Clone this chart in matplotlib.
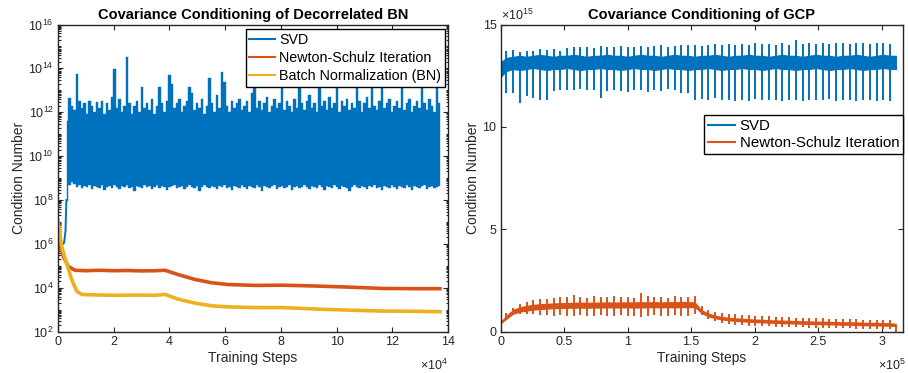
import numpy as np
import matplotlib
matplotlib.use("Agg")
import matplotlib.pyplot as plt
from matplotlib.lines import Line2D
from matplotlib.ticker import FixedLocator, FixedFormatter, NullFormatter

plt.rcParams['font.family'] = ['Liberation Sans', 'DejaVu Sans']
plt.rcParams['mathtext.fontset'] = 'custom'
plt.rcParams['mathtext.rm'] = 'Liberation Sans'
plt.rcParams['mathtext.it'] = 'Liberation Sans:italic'
plt.rcParams['mathtext.bf'] = 'Liberation Sans:bold'

BLUE = '#0072BD'
ORANGE = '#D95319'
YELLOW = '#EDB120'
INK = '#262626'

# ---------------- Decorrelated BN: condition numbers (log10) ----------------
dbn_svd_warmup_steps = [0, 300, 800, 1500, 2200, 2700, 3000]
dbn_svd_warmup_log = [5.4, 5.9, 6.05, 6.0, 6.05, 6.6, 8.0]

# SVD after warm-up: per-sample peak and floor of the noisy trace
dbn_svd_top_log = [
    11.6, 12.64, 12.3, 12.1, 13.76, 12.5, 12.2, 12.4, 11.9, 12.5,
    12.3, 12.0, 12.45, 12.2, 12.5, 11.9, 12.4, 12.1, 12.7, 13.99,
    12.2, 12.6, 12.0, 12.3, 14.51, 12.4, 11.9, 12.3, 12.5, 12.0,
    13.16, 12.2, 12.4, 12.1, 12.6, 11.9, 12.3, 13.16, 12.4, 12.0,
    12.5, 13.69, 13.3, 12.2, 12.4, 12.6, 12.0, 12.3, 12.5, 13.16,
    12.9, 12.1, 12.4, 12.2, 12.6, 11.9, 12.3, 13.54, 12.4, 12.0,
    12.8, 12.2, 13.84, 13.4, 12.3, 12.0, 12.5, 12.2, 12.4, 12.6,
    12.1, 12.3, 12.5, 12.0, 12.86, 13.3, 12.2, 12.5, 12.1, 12.4,
    12.7, 12.0, 12.3, 12.6, 12.2, 12.4, 13.5, 12.1, 12.5, 12.3,
    12.0, 12.6, 12.2, 13.3, 12.4, 12.1, 12.5, 12.8, 12.2, 12.4,
    12.0, 13.6, 12.3, 12.5, 12.1, 12.7, 12.2, 12.4, 13.4, 12.0,
    12.5, 12.3, 12.6, 12.1, 12.4, 12.2, 13.3, 12.5, 12.0, 12.4,
    12.7, 12.2, 13.5, 12.3, 12.1, 12.5, 13.3, 12.2, 12.4, 12.6,
    12.0, 12.3, 12.5, 12.2, 13.4, 12.1, 12.4, 12.6, 12.0, 12.3,
    12.5, 12.2, 13.5, 12.4, 12.1, 12.6, 12.3, 12.0, 13.3, 12.4,
]
dbn_svd_floor_log = [
    8.0, 8.7, 8.8, 8.75, 8.6, 8.7, 8.55, 8.65, 8.6, 8.7,
    8.5, 8.65, 8.6, 8.55, 8.7, 8.45, 8.6, 8.65, 8.55, 8.7,
    8.6, 8.5, 8.65, 8.6, 8.7, 8.55, 8.6, 8.4, 8.65, 8.6,
    8.55, 8.7, 8.6, 8.65, 8.5, 8.6, 8.7, 8.55, 8.65, 8.6,
    8.45, 8.6, 8.65, 8.7, 8.55, 8.6, 8.65, 8.5, 8.6, 8.7,
    8.6, 8.55, 8.65, 8.4, 8.6, 8.7, 8.6, 8.55, 8.65, 8.6,
    8.5, 8.65, 8.6, 8.7, 8.55, 8.6, 8.45, 8.65, 8.6, 8.55,
    8.7, 8.6, 8.5, 8.65, 8.6, 8.55, 8.7, 8.6, 8.4, 8.65,
    8.6, 8.55, 8.65, 8.7, 8.5, 8.6, 8.65, 8.55, 8.6, 8.7,
    8.45, 8.6, 8.65, 8.55, 8.6, 8.7, 8.6, 8.5, 8.65, 8.6,
    8.55, 8.7, 8.6, 8.45, 8.65, 8.6, 8.55, 8.7, 8.6, 8.5,
    8.65, 8.6, 8.55, 8.4, 8.6, 8.7, 8.6, 8.55, 8.65, 8.6,
    8.5, 8.65, 8.6, 8.7, 8.55, 8.6, 8.45, 8.65, 8.6, 8.55,
    8.7, 8.6, 8.5, 8.65, 8.6, 8.55, 8.7, 8.6, 8.45, 8.65,
    8.6, 8.55, 8.65, 8.7, 8.5, 8.6, 8.65, 8.55, 8.6, 8.65,
]
dbn_svd_band_start, dbn_svd_band_end = 3300, 137000

dbn_ns_steps = [0, 1900, 3700, 6100, 10000, 15000, 20000, 25000, 30000, 35000,
                38400, 43200, 49200, 55200, 61100, 70700, 80900, 92900, 104800,
                116800, 128700, 137100]
dbn_ns_log = [6.63, 5.43, 4.98, 4.80, 4.78, 4.80, 4.78, 4.79, 4.77, 4.78,
              4.80, 4.60, 4.38, 4.23, 4.15, 4.11, 4.12, 4.08, 4.03,
              3.97, 3.96, 3.96]
dbn_bn_steps = [0, 1300, 3100, 4900, 6700, 8500, 12000, 20000, 28000, 35000,
                38400, 43200, 49200, 55200, 61100, 70700, 80900, 92900, 104800,
                116800, 128700, 137100]
dbn_bn_log = [7.08, 5.88, 5.13, 4.38, 3.85, 3.70, 3.68, 3.66, 3.67, 3.66,
              3.70, 3.48, 3.30, 3.18, 3.13, 3.10, 3.10, 3.03, 2.98,
              2.94, 2.93, 2.91]

# ---------------- GCP: condition numbers (units of 1e15) ----------------
gcp_first_spike, gcp_spike_period, gcp_spike_count = 4500, 5300, 58
gcp_end_step = 311500

gcp_svd_lo = [
    12.4, 12.7, 12.8, 12.75, 12.8, 12.85, 12.8, 12.75, 12.8, 12.8,
    12.85, 12.8, 12.75, 12.8, 12.8, 12.85, 12.8, 12.8, 12.75, 12.8,
    12.85, 12.8, 12.8, 12.75, 12.8, 12.85, 12.8, 12.8, 12.75, 12.8,
    12.8, 12.85, 12.8, 12.75, 12.8, 12.8, 12.85, 12.8, 12.8, 12.75,
    12.8, 12.85, 12.8, 12.8, 12.75, 12.8, 12.8, 12.85, 12.8, 12.75,
    12.8, 12.8, 12.85, 12.8, 12.75, 12.8, 12.8, 12.85, 12.8, 12.8,
]
gcp_svd_hi = [
    13.2, 13.4, 13.45, 13.5, 13.45, 13.5, 13.55, 13.5, 13.45, 13.5,
    13.5, 13.55, 13.5, 13.45, 13.5, 13.5, 13.55, 13.5, 13.5, 13.45,
    13.5, 13.55, 13.5, 13.5, 13.45, 13.5, 13.55, 13.5, 13.5, 13.45,
    13.5, 13.5, 13.55, 13.5, 13.45, 13.5, 13.5, 13.55, 13.5, 13.5,
    13.45, 13.5, 13.55, 13.5, 13.5, 13.45, 13.5, 13.55, 13.5, 13.5,
    13.45, 13.5, 13.5, 13.55, 13.5, 13.45, 13.5, 13.55, 13.5, 13.5,
]
gcp_svd_down = [
    12.4, 11.66, 11.66, 11.17, 11.50, 11.41, 11.33, 11.30, 11.74, 11.79,
    11.82, 11.79, 11.86, 11.82, 11.79, 11.41, 11.74, 11.82, 11.74, 11.69,
    11.79, 11.82, 11.69, 11.82, 11.74, 11.86, 11.79, 11.66, 11.66, 11.33,
    11.36, 11.33, 11.40, 11.30, 11.33, 11.28, 11.33, 11.25, 11.35, 11.30,
    11.33, 11.30, 11.28, 11.30, 11.33, 11.26, 11.33, 11.30, 11.30, 11.35,
    11.28, 11.33, 11.30, 11.26, 11.30, 11.33, 11.28, 11.30, 11.28, 12.8,
]
gcp_svd_up = [
    13.2, 13.70, 13.75, 13.65, 13.72, 13.70, 13.78, 13.75, 13.80, 13.72,
    13.85, 13.90, 13.88, 13.92, 13.86, 13.95, 13.90, 13.88, 13.94, 13.90,
    13.92, 13.96, 13.90, 13.94, 14.00, 13.92, 13.96, 14.02, 13.98, 14.00,
    13.95, 14.02, 14.05, 13.98, 14.04, 14.00, 14.06, 14.02, 14.08, 14.04,
    14.06, 14.02, 14.10, 14.00, 14.23, 14.06, 14.08, 14.04, 14.10, 14.06,
    14.08, 14.10, 14.05, 14.08, 14.10, 14.06, 14.08, 14.10, 14.05, 13.4,
]

gcp_ns_lo = [
    0.38, 0.60, 0.85, 0.95, 1.00, 1.05, 1.08, 1.10, 1.12, 1.13,
    1.14, 1.14, 1.15, 1.14, 1.15, 1.15, 1.16, 1.15, 1.16, 1.16,
    1.15, 1.16, 1.16, 1.17, 1.16, 1.17, 1.16, 1.17, 1.17, 1.17,
    0.88, 0.72, 0.63, 0.57, 0.53, 0.50, 0.48, 0.46, 0.44, 0.43,
    0.41, 0.40, 0.39, 0.38, 0.37, 0.36, 0.35, 0.34, 0.34, 0.33,
    0.32, 0.31, 0.31, 0.30, 0.29, 0.28, 0.28, 0.27, 0.26, 0.25,
]
gcp_ns_hi = [
    0.52, 0.82, 1.10, 1.22, 1.29, 1.34, 1.37, 1.39, 1.41, 1.42,
    1.43, 1.44, 1.45, 1.44, 1.45, 1.45, 1.46, 1.45, 1.46, 1.46,
    1.46, 1.47, 1.46, 1.47, 1.46, 1.47, 1.47, 1.48, 1.47, 1.47,
    1.08, 0.92, 0.81, 0.75, 0.71, 0.68, 0.66, 0.64, 0.62, 0.61,
    0.59, 0.58, 0.57, 0.56, 0.55, 0.54, 0.53, 0.52, 0.52, 0.51,
    0.50, 0.49, 0.49, 0.48, 0.47, 0.46, 0.46, 0.45, 0.44, 0.41,
]
gcp_ns_tick_lo = [
    0.40, 0.55, 0.80, 0.85, 0.85, 0.85, 0.80, 0.80, 0.78, 0.80,
    0.78, 0.76, 0.80, 0.78, 0.76, 0.80, 0.78, 0.77, 0.80, 0.78,
    0.76, 0.74, 0.78, 0.80, 0.77, 0.78, 0.80, 0.76, 0.78, 0.85,
    0.80, 0.60, 0.50, 0.42, 0.38, 0.34, 0.32, 0.30, 0.28, 0.27,
    0.26, 0.25, 0.24, 0.23, 0.22, 0.21, 0.20, 0.20, 0.19, 0.18,
    0.17, 0.17, 0.16, 0.15, 0.14, 0.14, 0.13, 0.12, 0.12, 0.0,
]
gcp_ns_tick_hi = [
    1.65, 0.90, 1.15, 1.35, 1.45, 1.55, 1.60, 1.62, 1.65, 1.70,
    1.68, 1.78, 1.70, 1.66, 1.72, 1.68, 1.70, 1.72, 1.68, 1.70,
    1.66, 1.87, 1.72, 1.68, 1.70, 1.66, 1.72, 1.70, 1.68, 1.75,
    1.25, 1.05, 0.98, 0.92, 0.88, 0.85, 0.82, 0.80, 0.78, 0.76,
    0.75, 0.73, 0.72, 0.70, 0.69, 0.68, 0.67, 0.66, 0.65, 0.64,
    0.63, 0.62, 0.61, 0.60, 0.59, 0.58, 0.57, 0.56, 0.55, 0.33,
]

# ---------------- figure ----------------
W, H = 908, 373
fig = plt.figure(figsize=(W / 100, H / 100), dpi=100)
ax_top, ax_bot = 24.5, 331.7
axL = fig.add_axes([58 / W, 1 - ax_bot / H, (448 - 58) / W, (ax_bot - ax_top) / H])
axR = fig.add_axes([500.7 / W, 1 - ax_bot / H, (903 - 500.7) / W, (ax_bot - ax_top) / H])

# ---- left panel ----
band_x = np.linspace(dbn_svd_band_start, dbn_svd_band_end, len(dbn_svd_top_log))
axL.plot(dbn_svd_warmup_steps + [band_x[0]],
         10 ** np.array(dbn_svd_warmup_log + [dbn_svd_floor_log[0]]),
         color=BLUE, lw=1.4, solid_joinstyle='miter')
axL.fill_between(band_x, 10 ** np.array(dbn_svd_floor_log),
                 10 ** np.array(dbn_svd_top_log), step='mid', color=BLUE, lw=0.3,
                 edgecolor=BLUE)
axL.plot(dbn_ns_steps, 10 ** np.array(dbn_ns_log), color=ORANGE, lw=2.6)
axL.plot(dbn_bn_steps, 10 ** np.array(dbn_bn_log), color=YELLOW, lw=2.6)

axL.set_yscale('log')
axL.set_xlim(0, 140000)
axL.set_ylim(1e2, 1e16)
axL.xaxis.set_major_locator(FixedLocator(np.arange(0, 140001, 20000)))
axL.xaxis.set_major_formatter(FixedFormatter([str(v) for v in range(0, 15, 2)]))
exps = list(range(2, 17, 2))
axL.yaxis.set_major_locator(FixedLocator([10.0 ** e for e in exps]))
axL.yaxis.set_major_formatter(FixedFormatter([r'$10^{%d}$' % e for e in exps]))
minor = [k * 10.0 ** e for e in range(2, 16) for k in range(1, 10)
         if not (k == 1 and e % 2 == 0)]
axL.yaxis.set_minor_locator(FixedLocator(minor))
axL.yaxis.set_minor_formatter(NullFormatter())
axL.set_title('Covariance Conditioning of Decorrelated BN', fontsize=10.5,
              fontweight='bold', color='black', pad=4)
axL.set_xlabel('Training Steps', fontsize=10, color=INK, labelpad=2)
axL.set_ylabel('Condition Number', fontsize=10, color=INK, labelpad=1.5)
axL.text(1.0, -0.085, r'$\times10^{4}$', transform=axL.transAxes, ha='right',
         va='top', fontsize=9, color=INK)

handlesL = [Line2D([], [], color=c, lw=1.5) for c in (BLUE, ORANGE, YELLOW)]
legL = axL.legend(handlesL, ['SVD', 'Newton-Schulz Iteration', 'Batch Normalization (BN)'],
                  loc='upper right', bbox_to_anchor=(0.992, 0.985), borderaxespad=0,
                  fontsize=10.3, fancybox=False, framealpha=1, edgecolor='black',
                  handlelength=1.8, handletextpad=0.3, labelspacing=0.3,
                  borderpad=0.25)
legL.get_frame().set_linewidth(1.0)

# ---- right panel ----
spikes = gcp_first_spike + gcp_spike_period * np.arange(gcp_spike_count)
gcp_steps = np.concatenate([[0], spikes, [gcp_end_step]])
axR.fill_between(gcp_steps, gcp_svd_lo, gcp_svd_hi, color=BLUE, lw=0)
axR.vlines(gcp_steps, gcp_svd_down, gcp_svd_up, color=BLUE, lw=1.4, capstyle='butt')
axR.fill_between(gcp_steps, gcp_ns_lo, gcp_ns_hi, color=ORANGE, lw=0)
axR.vlines(gcp_steps, gcp_ns_tick_lo, gcp_ns_tick_hi, color=ORANGE, lw=1.4, capstyle='butt')

axR.set_xlim(0, 316800)
axR.set_ylim(0, 15)
axR.xaxis.set_major_locator(FixedLocator(np.arange(0, 300001, 50000)))
axR.xaxis.set_major_formatter(FixedFormatter(['0', '0.5', '1', '1.5', '2', '2.5', '3']))
axR.yaxis.set_major_locator(FixedLocator([0, 5, 10, 15]))
axR.yaxis.set_major_formatter(FixedFormatter(['0', '5', '10', '15']))
axR.set_title('Covariance Conditioning of GCP', fontsize=10.5, fontweight='bold',
              color='black', pad=4)
axR.set_xlabel('Training Steps', fontsize=10, color=INK, labelpad=2)
axR.set_ylabel('Condition Number', fontsize=10, color=INK, labelpad=1.5)
axR.text(1.0075, -0.085, r'$\times10^{5}$', transform=axR.transAxes, ha='right',
         va='top', fontsize=9, color=INK)
axR.text(0.0, 1.005, r'$\times10^{15}$', transform=axR.transAxes, ha='left',
         va='bottom', fontsize=9, color=INK)

handlesR = [Line2D([], [], color=c, lw=1.5) for c in (BLUE, ORANGE)]
legR = axR.legend(handlesR, ['SVD', 'Newton-Schulz Iteration'],
                  loc='upper right', bbox_to_anchor=(1.0, 0.705), borderaxespad=0,
                  fontsize=10.8, fancybox=False, framealpha=1, edgecolor='black',
                  handlelength=1.8, handletextpad=0.3, labelspacing=0.2,
                  borderpad=0.25)
legR.get_frame().set_linewidth(1.0)

for ax in (axL, axR):
    for s in ax.spines.values():
        s.set_color(INK)
        s.set_linewidth(1.0)
    ax.tick_params(which='both', direction='in', top=True, right=True,
                   color=INK, labelcolor=INK, labelsize=9, width=0.8)
    ax.tick_params(which='major', length=3.6, pad=3)
    ax.tick_params(which='minor', length=1.8)

fig.savefig('out.png', dpi=100)
